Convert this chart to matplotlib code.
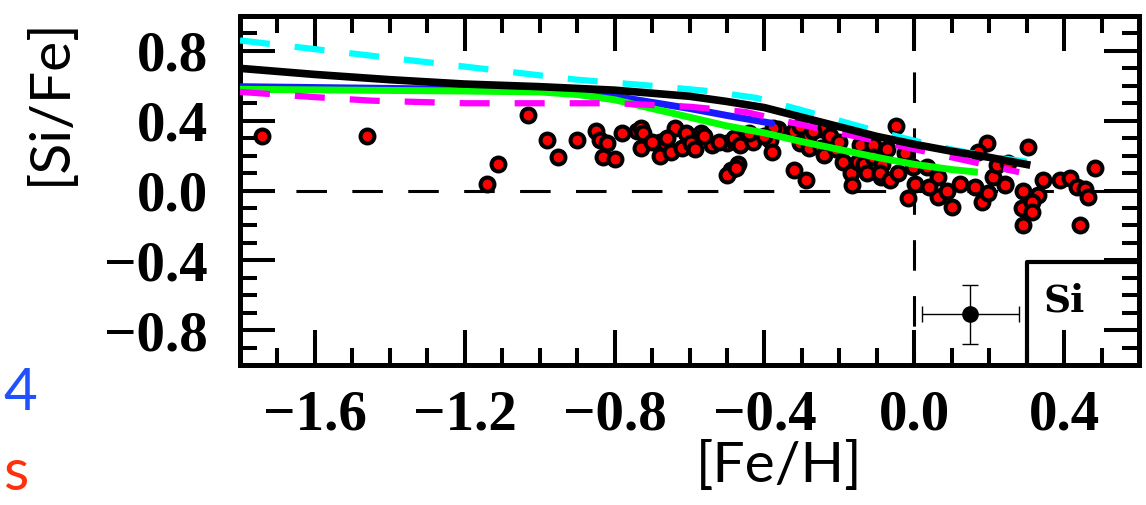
import matplotlib
matplotlib.use("Agg")
import matplotlib.pyplot as plt
from matplotlib.ticker import MultipleLocator, FuncFormatter

# ---------------- data ----------------
obs_feh = [-1.74, -1.46, -1.14, -1.11, -1.03, -0.98, -0.95, -0.90,
           -0.85, -0.84, -0.82, -0.83, -0.80, -0.78, -0.74, -0.73, -0.725, -0.73,
           -0.68, -0.68, -0.665, -0.65, -0.64, -0.61, -0.62, -0.595, -0.585, -0.57,
           -0.54, -0.50, -0.485, -0.49, -0.50, -0.47, -0.48, -0.465, -0.43, -0.475,
           -0.385, -0.38, -0.365, -0.377, -0.32, -0.29, -0.32, -0.305, -0.28, -0.28,
           -0.25, -0.25, -0.24, -0.225, -0.21, -0.20, -0.19, -0.17, -0.165, -0.145,
           -0.15, -0.135, -0.125, -0.11, -0.11, -0.09, -0.085, -0.05, -0.305, -0.27,
           -0.073, -0.025, -0.003, 0.034, 0.002, 0.063, -0.017, 0.063, 0.087, 0.10,
           0.122, 0.162, 0.18, 0.197, 0.21, 0.242, 0.221, 0.25, 0.29, 0.288,
           0.29, -0.092, -0.065, -0.043, 0.04, 0.194, 0.17, 0.305, 0.482, 0.242,
           0.344, 0.331, 0.314, 0.314, 0.389, 0.416, 0.434, 0.456, 0.464, 0.442,
           -0.44, -0.40, -0.56, -0.52, -0.66, -0.70]
obs_sife = [0.31, 0.31, 0.04, 0.15, 0.43, 0.29, 0.19, 0.29,
            0.34, 0.29, 0.27, 0.19, 0.18, 0.33, 0.34, 0.36, 0.33, 0.245,
            0.28, 0.195, 0.27, 0.22, 0.36, 0.33, 0.245, 0.27, 0.235, 0.33,
            0.26, 0.275, 0.29, 0.12, 0.09, 0.15, 0.30, 0.26, 0.28, 0.13,
            0.29, 0.22, 0.35, 0.36, 0.12, 0.06, 0.34, 0.275, 0.32, 0.245,
            0.35, 0.245, 0.205, 0.31, 0.235, 0.28, 0.165, 0.10, 0.03, 0.26,
            0.165, 0.15, 0.10, 0.26, 0.19, 0.08, 0.15, 0.37, 0.37, 0.34,
            0.235, 0.215, 0.135, 0.135, 0.04, 0.08, -0.045, -0.04, 0.0, -0.095,
            0.04, 0.02, -0.065, -0.015, 0.08, 0.04, 0.145, 0.16, 0.0, -0.10,
            -0.20, 0.10, 0.06, 0.10, 0.02, 0.275, 0.22, 0.25, 0.13, 0.03,
            0.06, -0.025, -0.065, -0.125, 0.06, 0.07, 0.02, 0.01, -0.04, -0.20,
            0.33, 0.31, 0.31, 0.28, 0.30, 0.28]

cyan_feh = [-1.8, -1.6, -1.4, -1.2, -1.0, -0.9, -0.7, -0.55, -0.42, -0.3, -0.2, -0.1, 0.0, 0.1, 0.2, 0.30]
cyan_sife = [0.86, 0.81, 0.76, 0.71, 0.66, 0.635, 0.60, 0.57, 0.53, 0.46, 0.40, 0.34, 0.285, 0.235, 0.195, 0.165]

black_feh = [-1.8, -1.6, -1.4, -1.2, -1.0, -0.8, -0.6, -0.5, -0.4, -0.3, -0.2, -0.1, 0.0, 0.1, 0.2, 0.31]
black_sife = [0.70, 0.665, 0.635, 0.61, 0.595, 0.575, 0.54, 0.51, 0.475, 0.42, 0.365, 0.31, 0.265, 0.225, 0.19, 0.145]

magenta_feh = [-1.8, -1.6, -1.45, -1.2, -1.0, -0.8, -0.6, -0.45, -0.35, -0.2, -0.07, 0.1, 0.28]
magenta_sife = [0.565, 0.535, 0.515, 0.50, 0.50, 0.50, 0.48, 0.45, 0.40, 0.33, 0.27, 0.19, 0.105]

blue_feh = [-1.8, -1.4, -1.0, -0.9, -0.8, -0.7, -0.6, -0.5, -0.38]
blue_sife = [0.595, 0.585, 0.575, 0.565, 0.54, 0.505, 0.47, 0.43, 0.385]

green_feh = [-1.8, -1.5, -1.2, -1.0, -0.9, -0.8, -0.7, -0.6, -0.5, -0.4, -0.3, -0.2, -0.1, 0.0, 0.1, 0.17]
green_sife = [0.58, 0.575, 0.57, 0.565, 0.55, 0.52, 0.47, 0.42, 0.37, 0.33, 0.28, 0.235, 0.19, 0.15, 0.12, 0.105]

err_x, err_y = [0.15], [-0.71]
err_dx, err_dy = [0.13], [0.17]

box_x = [0.30, 0.30, 0.60]
box_y = [-1.0, -0.41, -0.41]

xticks = [-1.6, -1.2, -0.8, -0.4, 0.0, 0.4]
yticks = [-0.8, -0.4, 0.0, 0.4, 0.8]

# ---------------- figure ----------------
W, H = 1146, 505
fig = plt.figure(figsize=(W / 100, H / 100), dpi=100)
ax = fig.add_axes([240 / W, (H - 365) / H, (1139 - 240) / W, (365 - 16) / H])
ax.set_xlim(-1.8, 0.6)
ax.set_ylim(-1.0, 1.0)

# reference lines
ax.plot([-1.8, 0.6], [0, 0], color="black", lw=2.2, dashes=(10, 8.3), zorder=1)
ax.plot([0, 0], [1.0, -1.0], color="black", lw=2.2, dashes=(10, 8.3), zorder=1)

# observations
ax.plot(obs_feh, obs_sife, linestyle="none", marker="o", ms=10, mfc="#ff0000",
        mec="black", mew=2.9, zorder=2)

# models
ax.plot(blue_feh, blue_sife, color="#1a1aff", lw=5, solid_capstyle="round", zorder=3)
ax.plot(green_feh, green_sife, color="#00ff00", lw=5, solid_capstyle="butt", zorder=4)
ax.plot(magenta_feh, magenta_sife, color="#ff00ff", lw=4.5, dashes=(4.8, 4.0), zorder=5)
ax.plot(cyan_feh, cyan_sife, color="#00ffff", lw=4.5, dashes=(4.8, 4.0), zorder=6)
ax.plot(black_feh, black_sife, color="black", lw=5.5, solid_capstyle="butt", zorder=7)

# typical error bar
ax.errorbar(err_x, err_y, xerr=err_dx, yerr=err_dy, fmt="o", color="black",
            ms=11, elinewidth=1, capsize=6, capthick=1, zorder=8)

# element box
ax.plot(box_x, box_y, color="black", lw=3, solid_capstyle="projecting", zorder=8, clip_on=False)
ax.text(0.40, -0.635, "Si", fontsize=27, fontweight="bold", family="DejaVu Serif",
        ha="center", va="center", zorder=9)

# axes styling
for sp in ax.spines.values():
    sp.set_linewidth(3.6)
ax.xaxis.set_major_locator(MultipleLocator(0.4))
ax.xaxis.set_minor_locator(MultipleLocator(0.1))
ax.yaxis.set_major_locator(MultipleLocator(0.4))
ax.yaxis.set_minor_locator(MultipleLocator(0.1))
ax.set_xticks(xticks)
ax.set_yticks(yticks)
fmt = FuncFormatter(lambda v, p: ("\u2212" if v < -1e-9 else "") + f"{abs(v):.1f}")
ax.xaxis.set_major_formatter(fmt)
ax.yaxis.set_major_formatter(fmt)
ax.tick_params(which="both", direction="in", top=True, right=True, width=2.9)
ax.tick_params(which="major", length=25)
ax.tick_params(which="minor", length=12)
ax.tick_params(axis="x", which="major", pad=18)
ax.tick_params(axis="y", which="major", pad=23)
for lab in ax.get_xticklabels() + ax.get_yticklabels():
    lab.set_fontfamily("Liberation Serif")
    lab.set_fontweight("bold")
    lab.set_fontsize(41)

# axis titles and stray labels
fig.text(50 / W, 1 - 101 / H, "[Si/Fe]", rotation=90, ha="center", va="center",
         fontsize=41, family="Lato", fontweight="normal", color="black")
fig.text(779 / W, 1 - 466 / H, "[Fe/H]", ha="center", va="center",
         fontsize=41, family="Lato", fontweight="normal", color="black")
fig.text(3 / W, 1 - 393 / H, "4", ha="left", va="center", color="#2050ff",
         fontsize=42, family="Lato", fontweight="normal")
fig.text(3 / W, 1 - 474 / H, "s", ha="left", va="center", color="#ff3010",
         fontsize=42, family="Lato", fontweight="normal")

fig.savefig("out.png", dpi=100)
